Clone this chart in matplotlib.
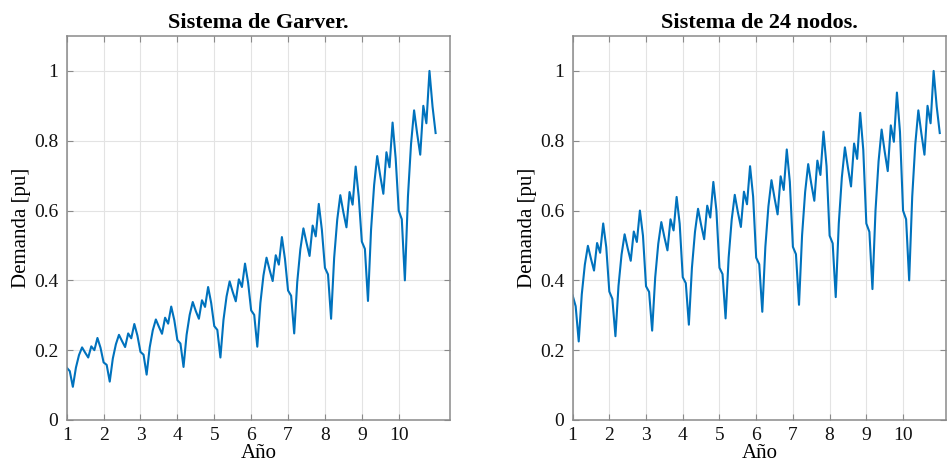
import matplotlib.pyplot as plt
import numpy as np

plt.rcParams['font.family'] = ['Liberation Serif', 'DejaVu Serif']

# monthly demand in pu, 12 values per year (years 1..10) plus the start of year 11
garver = [
    0.150, 0.140, 0.095, 0.150, 0.186, 0.208, 0.193, 0.179, 0.211, 0.200, 0.235, 0.207,
    0.165, 0.158, 0.110, 0.176, 0.217, 0.244, 0.226, 0.209, 0.248, 0.234, 0.275, 0.242,
    0.195, 0.187, 0.130, 0.208, 0.257, 0.288, 0.267, 0.247, 0.293, 0.276, 0.325, 0.286,
    0.229, 0.219, 0.152, 0.244, 0.301, 0.338, 0.312, 0.290, 0.343, 0.324, 0.381, 0.335,
    0.269, 0.258, 0.179, 0.287, 0.354, 0.397, 0.367, 0.340, 0.403, 0.381, 0.448, 0.394,
    0.314, 0.301, 0.210, 0.335, 0.414, 0.465, 0.430, 0.398, 0.472, 0.445, 0.524, 0.461,
    0.371, 0.356, 0.248, 0.396, 0.489, 0.549, 0.508, 0.470, 0.557, 0.526, 0.619, 0.545,
    0.436, 0.417, 0.290, 0.465, 0.574, 0.644, 0.595, 0.552, 0.653, 0.617, 0.726, 0.639,
    0.511, 0.490, 0.341, 0.545, 0.673, 0.756, 0.699, 0.648, 0.767, 0.724, 0.852, 0.750,
    0.600, 0.575, 0.400, 0.640, 0.790, 0.887, 0.820, 0.760, 0.900, 0.850, 1.000, 0.898,
    0.822,
]

nodos24 = [
    0.357, 0.326, 0.225, 0.360, 0.445, 0.499, 0.462, 0.428, 0.507, 0.479, 0.563, 0.495,
    0.368, 0.347, 0.240, 0.384, 0.474, 0.532, 0.492, 0.456, 0.540, 0.510, 0.600, 0.528,
    0.383, 0.367, 0.256, 0.409, 0.505, 0.567, 0.524, 0.486, 0.575, 0.543, 0.639, 0.562,
    0.409, 0.392, 0.273, 0.436, 0.539, 0.605, 0.559, 0.518, 0.614, 0.580, 0.682, 0.600,
    0.436, 0.418, 0.291, 0.465, 0.574, 0.645, 0.596, 0.553, 0.654, 0.618, 0.727, 0.640,
    0.465, 0.446, 0.310, 0.496, 0.612, 0.687, 0.636, 0.589, 0.698, 0.659, 0.775, 0.682,
    0.496, 0.475, 0.330, 0.529, 0.653, 0.733, 0.677, 0.628, 0.743, 0.702, 0.826, 0.727,
    0.528, 0.506, 0.352, 0.563, 0.695, 0.781, 0.722, 0.669, 0.792, 0.748, 0.880, 0.774,
    0.563, 0.539, 0.375, 0.600, 0.741, 0.832, 0.769, 0.713, 0.844, 0.797, 0.938, 0.825,
    0.600, 0.575, 0.400, 0.640, 0.790, 0.887, 0.820, 0.760, 0.900, 0.850, 1.000, 0.898,
    0.822,
]

titles = ['Sistema de Garver.', 'Sistema de 24 nodos.']
year_ticks = list(range(1, 11))
demand_ticks = [0, 0.2, 0.4, 0.6, 0.8, 1]
demand_labels = ['0', '0.2', '0.4', '0.6', '0.8', '1']

W, H = 949, 466
fig = plt.figure(figsize=(W / 100, H / 100), dpi=100)

# axes boxes in pixels: left, right, bottom, top
boxes = [(66.7, 450, 420, 36), (572.6, 946, 420, 36)]
xmax = [11.39, 11.17]

for series, title, box, xm in zip([garver, nodos24], titles, boxes, xmax):
    l, r, b, t = box
    ax = fig.add_axes([l / W, 1 - b / H, (r - l) / W, (b - t) / H])
    years = 1 + np.arange(len(series)) / 12
    ax.plot(years, series, color='#0072BD', lw=1.5)
    ax.set_xlim(1, xm)
    ax.set_ylim(0, 1.1)
    ax.set_xticks(year_ticks)
    ax.set_yticks(demand_ticks)
    ax.set_yticklabels(demand_labels)
    ax.grid(True, color='#e3e3e3', lw=0.8)
    ax.set_axisbelow(True)
    for s in ax.spines.values():
        s.set_color('#8a8a8a')
        s.set_linewidth(1.1)
    ax.tick_params(direction='in', length=4, width=0.8, color='#8a8a8a',
                   labelsize=14, labelcolor='#111111', top=True, right=True)
    ax.tick_params(axis='x', pad=5)
    ax.tick_params(axis='y', pad=6)
    ax.set_title(title, fontsize=16, fontweight='bold', pad=6)
    ax.set_xlabel('Año', fontsize=15, labelpad=0)
    ax.set_ylabel('Demanda [pu]', fontsize=15, labelpad=2)

fig.savefig('out.png', dpi=100)
